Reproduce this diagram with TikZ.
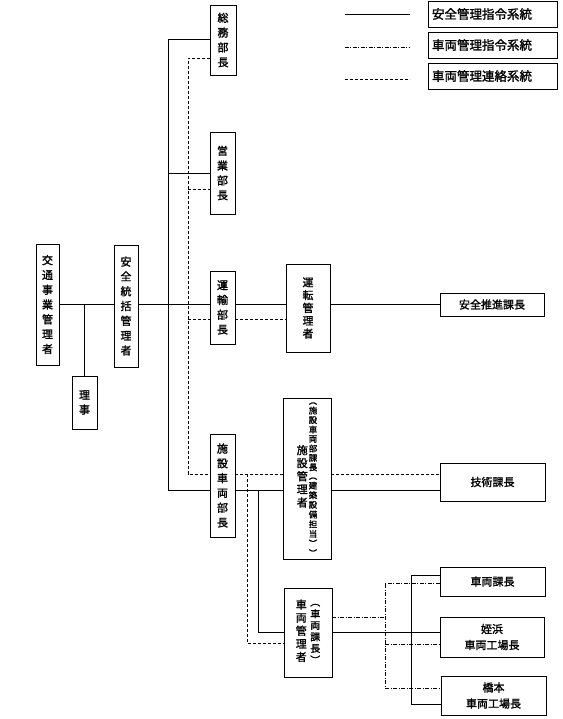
\documentclass[tikz,border=0pt]{standalone}
\usepackage{fontspec}
\setmainfont{Noto Sans CJK JP}[FakeBold=1.5]
\usepackage{tikz}

% one column of upright characters: size, line step, text
\newcommand{\vcol}[3]{{\fontsize{#1}{#2}\selectfont\begin{tabular}{@{}c@{}}#3\end{tabular}}}

\tikzset{
  box/.style={draw, line width=0.9pt, inner sep=0pt, fill=white},
  vbox/.style={box, align=center, font=\fontsize{11}{14.8}\selectfont},
  hbox/.style={box, align=center, font=\fontsize{11}{16}\selectfont},
  legbox/.style={box, inner xsep=4pt, text width=121pt, minimum height=26pt, align=left, font=\fontsize{12.5}{14}\selectfont},
  cmd/.style={line width=0.9pt},
  carcmd/.style={line width=0.9pt, dash pattern=on 4pt off 1.5pt on 1pt off 1.5pt},
  carlink/.style={line width=0.9pt, dash pattern=on 3pt off 2pt},
}

\begin{document}
\begin{tikzpicture}[x=1pt,y=-1pt]
        \useasboundingbox (0,0) rectangle (562,719);

        % legend
        \node[legbox] (legA) at (492.5,14) {安全管理指令系統};
        \node[legbox] (legB) at (492.5,45) {車両管理指令系統};
        \node[legbox] (legC) at (492.5,76) {車両管理連絡系統};
        \draw[cmd] ([xshift=-83pt]legA.west) -- ([xshift=-18pt]legA.west);
        \draw[carcmd] ([xshift=-83pt,yshift=-2pt]legB.west) -- ([xshift=-18pt,yshift=-2pt]legB.west);
        \draw[carlink] ([xshift=-83pt,yshift=-3pt]legC.west) -- ([xshift=-18pt,yshift=-3pt]legC.west);

        % boxes
        \node[vbox, minimum width=23pt, minimum height=121pt] (kotsu) at (47.5,304.5) {交\\通\\事\\業\\管\\理\\者};
        \node[vbox, minimum width=24pt, minimum height=122pt] (tokatsu) at (126,306) {安\\全\\統\\括\\管\\理\\者};
        \node[vbox, minimum width=25pt, minimum height=53pt] (riji) at (84.5,402.5) {理\\事};
        \node[vbox, minimum width=26pt, minimum height=70pt] (somu) at (223,40) {総\\務\\部\\長};
        \node[vbox, minimum width=25pt, minimum height=82pt] (eigyo) at (222.5,173) {営\\業\\部\\長};
        \node[vbox, minimum width=25pt, minimum height=73pt] (unyu) at (222.5,307.5) {運\\輸\\部\\長};
        \node[vbox, minimum width=44pt, minimum height=88pt, font=\fontsize{11}{12.8}\selectfont] (unten) at (308,308) {運\\転\\管\\理\\者};
        \node[hbox, minimum width=104pt, minimum height=23pt] (suishin) at (492,304.5) {安全推進課長};
        \node[vbox, minimum width=25pt, minimum height=103pt] (shisetsu) at (222.5,485.5) {施\\設\\車\\両\\部\\長};
        \node[box, minimum width=48pt, minimum height=161pt] (setsubi) at (307,478.5)
            {\vcol{11}{13}{施\\設\\管\\理\\者}\hspace{1pt}\vcol{8.5}{8.6}{︵\\施\\設\\車\\両\\部\\課\\長\\︵\\建\\築\\設\\備\\担\\当\\︶\\︶}};
        \node[hbox, minimum width=105pt, minimum height=38pt] (gijutsu) at (492.5,482) {技術課長};
        \node[box, minimum width=48pt, minimum height=89pt] (sharyo) at (308,632.5)
            {\vcol{11}{13}{車\\両\\管\\理\\者}\hspace{3.5pt}\vcol{10}{11.5}{︵\\車\\両\\課\\長\\︶}\hspace{5.5pt}};
        \node[hbox, minimum width=105pt, minimum height=29pt] (sharyoka) at (492.5,581.5) {車両課長};
        \node[hbox, minimum width=104pt, minimum height=40pt] (meinohama) at (492,637) {姪浜\\車両工場長};
        \node[hbox, minimum width=105pt, minimum height=39pt] (hashimoto) at (493.5,695.5) {橋本\\車両工場長};

        % safety command lines
        \draw[cmd] (kotsu.east) -- (kotsu.east -| tokatsu.west);
        \draw[cmd] (riji.north) -- (riji.north |- kotsu.east);
        \draw[cmd] (kotsu.east -| tokatsu.east) -- (kotsu.east -| unyu.west);
        \draw[cmd] (kotsu.east -| unyu.east) -- (kotsu.east -| unten.west);
        \draw[cmd] (kotsu.east -| unten.east) -- (suishin.west);
        \coordinate (trunkTop) at (168,39);
        \coordinate (trunkBot) at (168,490);
        \draw[cmd] (trunkTop -| somu.west) -- (trunkTop) -- (trunkBot) -- (trunkBot -| shisetsu.west);
        \draw[cmd] (eigyo.west -| trunkTop) -- (eigyo.west);
        \draw[cmd] (trunkBot -| shisetsu.east) -- (trunkBot -| setsubi.west);
        \draw[cmd] (trunkBot -| setsubi.east) -- (trunkBot -| gijutsu.west);
        \coordinate (dropA) at (258,490);
        \draw[cmd] (dropA) |- (sharyo.west);
        \draw[cmd] (sharyo.east) -- (sharyo.east -| meinohama.west);
        \coordinate (busTop) at (411,575);
        \coordinate (busBot) at (411,704);
        \draw[cmd] (busTop -| sharyoka.west) -- (busTop) -- (busBot) -- (busBot -| hashimoto.west);

        % vehicle liaison lines
        \coordinate (linkTop) at (188,58);
        \coordinate (linkEig) at (188,189);
        \coordinate (linkUnyu) at (188,319);
        \coordinate (linkBot) at (188,474);
        \draw[carlink] (linkTop -| somu.west) -- (linkTop) -- (linkBot) -- (linkBot -| shisetsu.west);
        \draw[carlink] (linkEig) -- (linkEig -| eigyo.west);
        \draw[carlink] (linkUnyu) -- (linkUnyu -| unyu.west);
        \draw[carlink] (linkUnyu -| unyu.east) -- (linkUnyu -| unten.west);
        \draw[carlink] (linkBot -| shisetsu.east) -- (linkBot -| setsubi.west);
        \draw[carlink] (linkBot -| setsubi.east) -- (linkBot -| gijutsu.west);
        \coordinate (linkDrop) at (247,474);
        \coordinate (linkCorner) at (247,643);
        \draw[carlink] (linkDrop) -- (linkCorner) -- (linkCorner -| sharyo.west);

        % vehicle command lines
        \coordinate (carIn) at (385,617);
        \coordinate (carTop) at (385,583);
        \coordinate (carMid) at (385,644);
        \coordinate (carBot) at (385,688);
        \draw[carcmd] (carIn -| sharyo.east) -- (carIn);
        \draw[carcmd] (carTop -| sharyoka.west) -- (carTop) -- (carBot) -- (carBot -| hashimoto.west);
        \draw[carcmd] (carMid) -- (carMid -| meinohama.west);
    \end{tikzpicture}
\end{document}
